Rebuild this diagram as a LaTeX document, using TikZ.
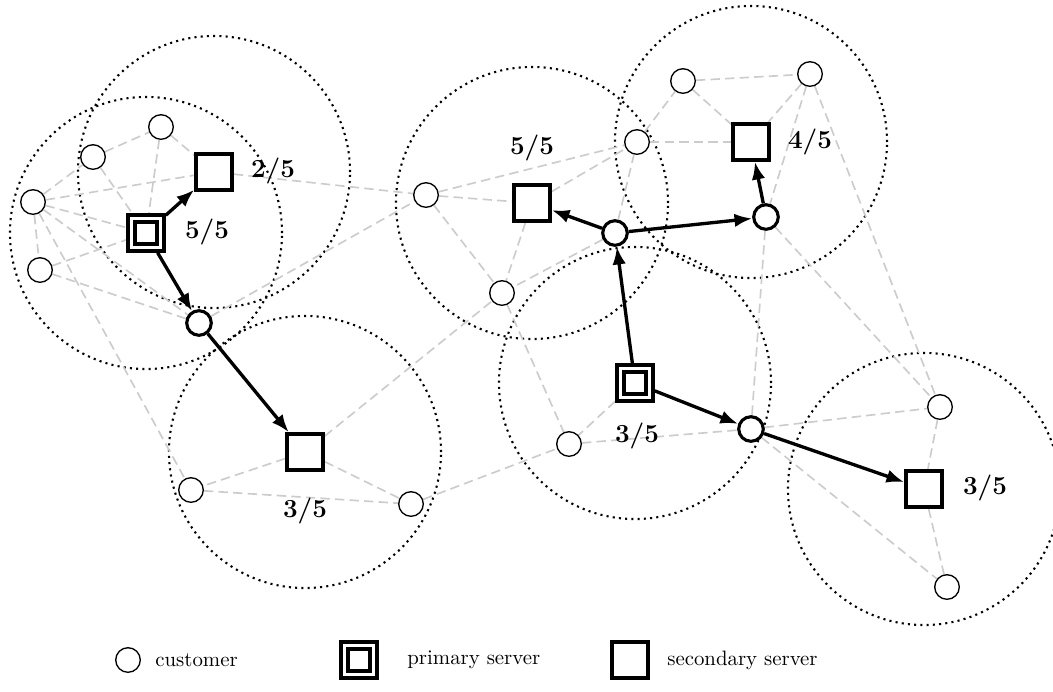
\documentclass[tikz,border=0pt]{standalone}
\usetikzlibrary{arrows.meta,backgrounds}
\tikzset{
	customer/.style={circle, draw, fill=white, line width=0.65pt, minimum size=11.8pt, inner sep=0pt},
	relay/.style={customer, line width=1.5pt},
	primary/.style={rectangle, draw, fill=white, line width=2pt, double, double distance=1.4pt, minimum size=13.6pt, inner sep=0pt, outer sep=2.7pt},
	secondary/.style={rectangle, draw, fill=white, line width=2pt, minimum size=17pt, inner sep=0pt},
	link/.style={draw=gray!40, line width=0.8pt, dash pattern=on 4.5pt off 2.5pt},
	route/.style={line width=1.6pt, -{Latex[length=8.5pt, width=6.5pt]}},
	reach/.style={dotted, line width=1pt},
	share/.style={font=\fontsize{12.5}{15}\selectfont\bfseries}
}
\begin{document}
\begin{tikzpicture}[x=0.48pt, y=-0.48pt]
		\useasboundingbox (0,0) rectangle (1053,691);
		% left group
		\node[customer] (a1) at (33,202) {};
		\node[customer] (a2) at (93,157) {};
		\node[customer] (a3) at (161,127) {};
		\node[customer] (a4) at (40,270) {};
		\node[primary] (p1) at (146,233) {};
		\node[secondary] (s1) at (214,172) {};
		\node[relay] (r1) at (199,323) {};
		\node[secondary] (s2) at (305,452) {};
		\node[customer] (a5) at (191,490) {};
		\node[customer] (a6) at (411,504) {};
		% right group
		\node[customer] (b1) at (426,195) {};
		\node[secondary] (s3) at (532,203) {};
		\node[relay] (r2) at (615,233) {};
		\node[customer] (b2) at (637,142) {};
		\node[customer] (b3) at (502,293) {};
		\node[customer] (b4) at (683,81) {};
		\node[customer] (b5) at (810,74) {};
		\node[secondary] (s4) at (751,142) {};
		\node[relay] (r3) at (766,217) {};
		\node[primary] (p2) at (635,383) {};
		\node[customer] (b6) at (569,444) {};
		\node[relay] (r4) at (751,429) {};
		\node[secondary] (s5) at (924,489) {};
		\node[customer] (b7) at (940,407) {};
		\node[customer] (b8) at (947,587) {};
		% loads
		\node[share] (q1) at (273,171) {2/5};
		\node[share] (q2) at (207,232) {5/5};
		\node[share] (q3) at (305,511) {3/5};
		\node[share] (q4) at (532,148) {5/5};
		\node[share] (q5) at (810,142) {4/5};
		\node[share] (q6) at (637,436) {3/5};
		\node[share] (q7) at (985,488) {3/5};

		\begin{scope}[on background layer]
			\foreach \c in {p1,s1,s2,s3,s4,p2,s5}
				\draw[reach] (\c) circle [radius=65.3pt];
			\foreach \u/\v in {a1/a2, a1/a4, a1/s1, a1/p1, a1/r1, a1/a5, a2/a3, a2/p1, a3/p1, a3/s1, a4/p1, a4/r1,
					s1/b1, r1/b1, s2/a5, s2/a6, s2/b3, a5/a6, a6/b6, b1/s3, b1/b2, b1/b3, s3/b2, s3/b3,
					r2/b2, r2/b3, b2/b4, b2/s4, b4/b5, b4/s4, b5/s4, b5/r3, b5/b7, r3/r4, r3/b7,
					p2/b6, b3/b6, b6/r4, r4/b7, r4/b8, b7/s5, s5/b8}
				\draw[link] (\u) -- (\v);
		\end{scope}

		% routes
		\draw[route] (p1) -- (s1);
		\draw[route] (p1) -- (r1);
		\draw[route] (r1) -- (s2);
		\draw[route] (p2) -- (r2);
		\draw[route] (p2) -- (r4);
		\draw[route] (r2) -- (s3);
		\draw[route] (r2) -- (r3);
		\draw[route] (r3) -- (s4);
		\draw[route] (r4) -- (s5);

		% legend
		\node[customer] (k1) at (128,660) {};
		\node[anchor=west] (t1) at (148,660) {customer};
		\node[primary] (k2) at (359,660) {};
		\node[anchor=west] (t2) at (400,660) {primary server};
		\node[secondary] (k3) at (630,660) {};
		\node[anchor=west] (t3) at (660,660) {secondary server};
\end{tikzpicture}
\end{document}
